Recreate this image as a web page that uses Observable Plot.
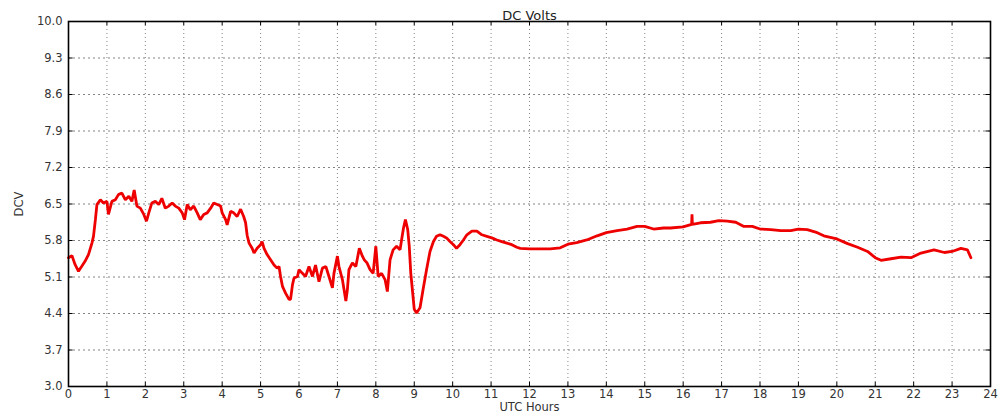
<!DOCTYPE html>
<html>
<head>
<meta charset="utf-8">
<script src="https://cdn.jsdelivr.net/npm/d3@7"></script>
<script src="https://cdn.jsdelivr.net/npm/@observablehq/plot@0.6"></script>
<style>
  html, body { margin: 0; padding: 0; background: #fff; }
  svg { display: block; }
</style>
</head>
<body>
<div id="chart"></div>
<script>
const title = "DC Volts";
const xLabel = "UTC Hours";
const yLabel = "DCV";
const xTicks = [0,1,2,3,4,5,6,7,8,9,10,11,12,13,14,15,16,17,18,19,20,21,22,23,24];
const yTicks = [3.0,3.7,4.4,5.1,5.8,6.5,7.2,7.9,8.6,9.3,10.0];

const hours = [
  0.00,0.09,0.17,0.26,0.35,0.43,0.52,0.61,0.65,0.70,0.74,0.83,0.91,1.00,1.04,1.13,1.22,1.30,1.39,1.48,
  1.57,1.65,1.71,1.78,1.87,1.96,2.03,2.09,2.17,2.26,2.35,2.43,2.52,2.61,2.70,2.78,2.87,2.96,3.02,3.09,
  3.17,3.26,3.35,3.43,3.52,3.61,3.70,3.78,3.87,3.96,4.00,4.09,4.13,4.22,4.30,4.39,4.48,4.56,4.61,4.65,
  4.70,4.78,4.83,4.91,5.00,5.04,5.09,5.17,5.26,5.35,5.43,5.48,5.52,5.57,5.65,5.74,5.78,5.83,5.87,5.96,
  6.00,6.09,6.17,6.26,6.35,6.43,6.52,6.61,6.70,6.78,6.87,6.91,7.00,7.04,7.13,7.22,7.26,7.30,7.39,7.48,
  7.57,7.65,7.70,7.77,7.85,7.93,8.00,8.06,8.15,8.24,8.30,8.37,8.45,8.54,8.63,8.67,8.72,8.77,8.83,8.87,
  8.91,8.96,9.00,9.06,9.15,9.23,9.32,9.41,9.50,9.58,9.67,9.76,9.84,9.93,10.02,10.10,10.19,10.28,10.37,10.50,
  10.63,10.76,10.89,11.02,11.15,11.28,11.41,11.54,11.67,11.76,12.00,12.28,12.54,12.80,13.00,13.23,13.49,13.76,14.00,14.28,
  14.54,14.80,15.00,15.23,15.49,15.67,16.00,16.22,16.23,16.24,16.45,16.71,16.93,17.15,17.37,17.58,17.80,18.00,18.28,18.54,
  18.80,19.00,19.23,19.49,19.66,20.00,20.28,20.54,20.80,21.00,21.15,21.41,21.67,21.93,22.19,22.53,22.80,23.00,23.23,23.40,
  23.49
];
const dcv = [
  5.47,5.51,5.34,5.21,5.31,5.40,5.53,5.75,5.88,6.20,6.49,6.58,6.52,6.55,6.30,6.55,6.58,6.68,6.71,6.58,
  6.65,6.55,6.77,6.46,6.42,6.30,6.17,6.33,6.52,6.55,6.49,6.61,6.42,6.46,6.52,6.46,6.42,6.33,6.20,6.49,
  6.39,6.46,6.33,6.20,6.30,6.33,6.42,6.52,6.49,6.46,6.33,6.20,6.10,6.36,6.33,6.26,6.40,6.26,6.14,5.90,
  5.75,5.65,5.56,5.65,5.72,5.78,5.65,5.53,5.43,5.33,5.27,5.30,5.11,4.92,4.79,4.67,4.67,4.95,5.08,5.11,
  5.24,5.17,5.11,5.30,5.11,5.33,5.01,5.27,5.30,5.11,4.89,5.17,5.50,5.30,5.05,4.64,4.86,5.24,5.37,5.30,
  5.65,5.50,5.43,5.37,5.24,5.17,5.69,5.11,5.17,5.05,4.82,5.43,5.62,5.69,5.62,5.81,6.04,6.20,6.01,5.69,
  5.17,4.79,4.48,4.41,4.51,4.86,5.24,5.59,5.78,5.88,5.91,5.88,5.85,5.78,5.72,5.65,5.72,5.81,5.91,5.98,
  5.98,5.91,5.88,5.85,5.81,5.78,5.75,5.72,5.67,5.65,5.64,5.64,5.64,5.66,5.73,5.76,5.81,5.89,5.95,5.99,
  6.02,6.07,6.07,6.02,6.04,6.04,6.06,6.11,6.30,6.11,6.14,6.15,6.18,6.17,6.15,6.07,6.07,6.02,6.01,5.99,
  5.99,6.02,6.01,5.95,5.89,5.83,5.74,5.67,5.59,5.47,5.42,5.45,5.48,5.47,5.56,5.62,5.57,5.59,5.65,5.62,
  5.47
];

const data = hours.map((h, i) => ({h, v: dcv[i]}));

const font = "DejaVu Sans, Liberation Sans, sans-serif";

const chart = Plot.plot({
  width: 1000,
  height: 413,
  marginLeft: 68,
  marginRight: 10,
  marginTop: 21,
  marginBottom: 27,
  style: {fontFamily: font, fontSize: "11.5px", color: "#333", background: "#fff"},
  x: {domain: [0, 24], ticks: xTicks, tickFormat: d => String(d), tickSize: 0, tickPadding: 3,
      label: xLabel, labelAnchor: "center", labelArrow: "none", labelOffset: 24.5},
  y: {domain: [3, 10], ticks: yTicks, tickFormat: d => d.toFixed(1), tickSize: 0, tickPadding: 6,
      label: yLabel, labelAnchor: "center", labelArrow: "none", labelOffset: 54},
  marks: [
    Plot.ruleY(yTicks.slice(1, -1), {stroke: "#777", strokeWidth: 0.9, strokeDasharray: "2,3"}),
    Plot.ruleX(xTicks.slice(1, -1), {stroke: "#777", strokeWidth: 0.9, strokeDasharray: "1,3"}),
    Plot.ruleX(xTicks, {y1: 3, y2: 3.08, stroke: "#000"}),
    Plot.ruleX(xTicks, {y1: 9.92, y2: 10, stroke: "#000"}),
    Plot.ruleY(yTicks, {x1: 0, x2: 0.12, stroke: "#000"}),
    Plot.ruleY(yTicks, {x1: 23.88, x2: 24, stroke: "#000"}),
    Plot.line(data, {x: "h", y: "v", stroke: "#ee0000", strokeWidth: 2.8, strokeLinejoin: "miter"}),
    Plot.frame({stroke: "#000", strokeWidth: 1.6}),
    Plot.text([title], {frameAnchor: "top", dy: -11, fontSize: 13, fill: "#222"})
  ]
});
document.getElementById("chart").appendChild(chart);
</script>
</body>
</html>
